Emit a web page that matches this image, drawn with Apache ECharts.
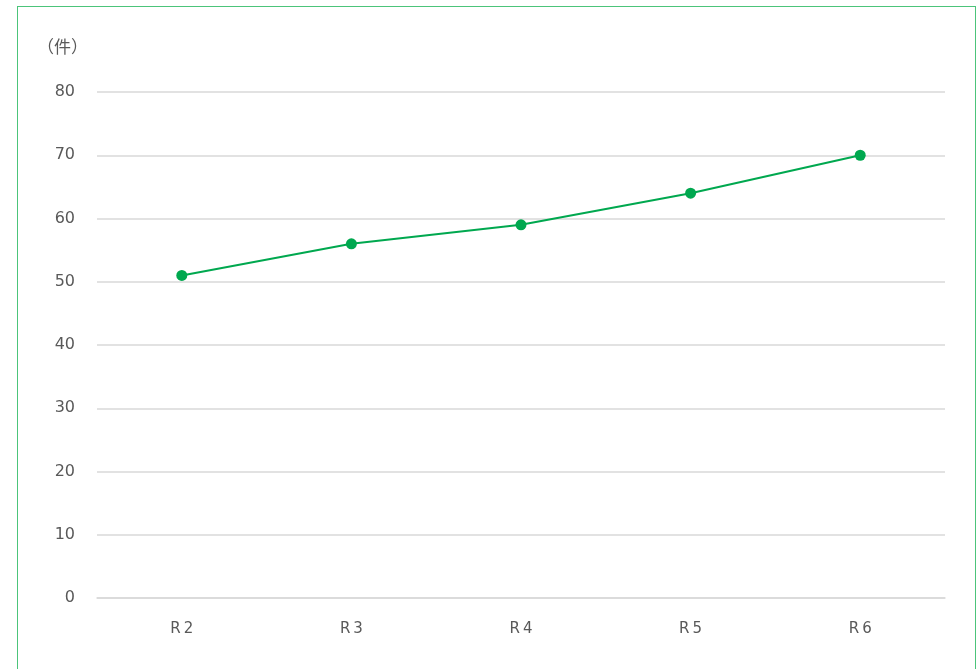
<!DOCTYPE html>
<html>
<head>
<meta charset="utf-8">
<style>
  html, body { margin: 0; padding: 0; background: #fff; }
  #frame { position: absolute; left: 17px; top: 6px; width: 959px; height: 700px; border: 1.5px solid #4cc47a; box-sizing: border-box; }
  #chart { position: absolute; left: 0; top: 0; width: 978px; height: 669px; }
</style>
<script src="https://cdn.jsdelivr.net/npm/echarts@6/dist/echarts.min.js"></script>
</head>
<body>
<div id="frame"></div>
<div id="chart"></div>
<script>
// Yearly counts (件) by fiscal year
const categories = ['R2', 'R3', 'R4', 'R5', 'R6'];
const counts = [51, 56, 59, 64, 70];
const yTicks = [0, 10, 20, 30, 40, 50, 60, 70, 80];

const chart = echarts.init(document.getElementById('chart'), null, { renderer: 'canvas' });
chart.setOption({
  animation: false,
  textStyle: { fontFamily: 'DejaVu Sans' },
  grid: { left: 97, right: 33, top: 92, bottom: 71, containLabel: false },
  graphic: [{
    type: 'text', left: 37, top: 38,
    style: { text: '（件）', fontSize: 17, fill: '#595959', fontFamily: 'Noto Sans CJK JP' }
  }],
  xAxis: {
    type: 'category',
    data: categories,
    boundaryGap: true,
    axisLine: { show: true, lineStyle: { color: '#d9d9d9', width: 1.5 } },
    axisTick: { show: false },
    axisLabel: {
      color: '#595959', fontSize: 15, margin: 24,
      formatter: v => v.replace(/^R/, 'R\u2009')
    }
  },
  yAxis: {
    type: 'value',
    min: yTicks[0], max: yTicks[yTicks.length - 1], interval: 10,
    axisLine: { show: false },
    axisTick: { show: false },
    axisLabel: { color: '#595959', fontSize: 16, margin: 22 },
    splitLine: { lineStyle: { color: '#d9d9d9', width: 1.5 } }
  },
  series: [{
    type: 'line',
    data: counts,
    symbol: 'circle',
    symbolSize: 11,
    itemStyle: { color: '#00a84f' },
    lineStyle: { color: '#00a84f', width: 2 }
  }]
});
</script>
</body>
</html>
